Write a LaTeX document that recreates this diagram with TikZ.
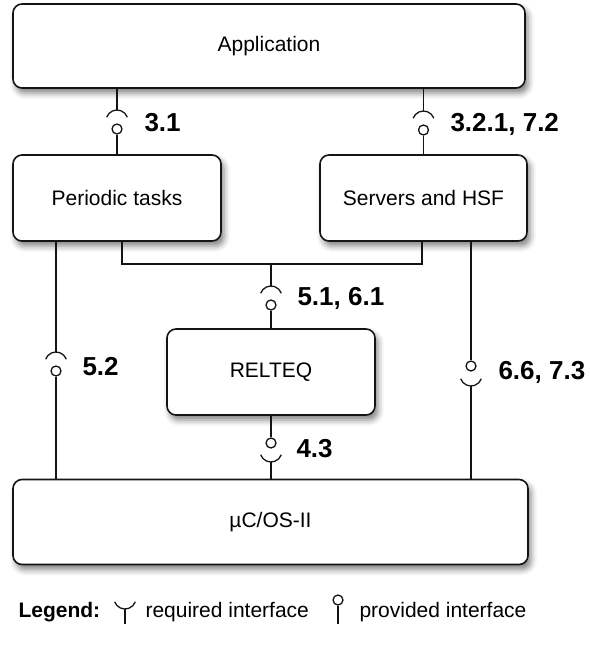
\documentclass[tikz,border=0pt]{standalone}
\usepackage{fontspec}
\setmainfont{Liberation Sans}
\usetikzlibrary{calc,shadows.blur}
\definecolor{linecol}{RGB}{20,20,20}

\begin{document}
\begin{tikzpicture}[
    x=1pt, y=1pt,
    comp/.style={draw=linecol, line width=1.6pt, fill=white, rounded corners=9pt,
                 minimum height=#1, inner sep=0pt,
                 font=\fontsize{21}{25}\selectfont,
                 blur shadow={shadow xshift=3pt, shadow yshift=-5pt,
                              shadow blur radius=6pt, shadow opacity=50}},
    comp/.default=86pt,
    wire/.style={draw=linecol, line width=1.3pt},
    ball/.style={circle, draw=linecol, line width=1.3pt, fill=white,
                 minimum size=10pt, inner sep=0pt},
    ilab/.style={anchor=west, font=\fontsize{26}{30}\selectfont\bfseries},
    leglab/.style={anchor=west, font=\fontsize{21}{25}\selectfont},
    reqdown/.pic={\draw[wire] (160:11) arc[start angle=160, end angle=20, radius=11];
                  \coordinate (-end) at (0,11);},
    requp/.pic={\draw[wire] (200:11) arc[start angle=200, end angle=340, radius=11];
                \coordinate (-end) at (0,-11);},
]
\useasboundingbox (0,0) rectangle (589,-650);

% ---- Components ----
\node[comp=84pt, minimum width=512pt] (app) at (269,-46) {Application};
\node[comp, minimum width=208pt] (per) at (117,-198) {Periodic tasks};
\node[comp, minimum width=207pt] (srv) at (423.5,-198) {Servers and HSF};
\node[comp, minimum width=208pt] (rel) at (271,-372) {RELTEQ};
\node[comp=85pt, minimum width=515pt] (os) at (270.5,-522) {µC/OS-II};

% ---- Interfaces ----
\pic (r31) at (117,-121) {reqdown};
\node[ball] (b31) at (117,-129) {};
\pic (r32) at (423.5,-122) {reqdown};
\node[ball] (b32) at (423.5,-130) {};
\pic (r51) at (271,-297) {reqdown};
\node[ball] (b51) at (271,-305) {};
\pic (r52) at (56,-363) {reqdown};
\node[ball] (b52) at (56,-371) {};
\node[ball] (b66) at (471,-366) {};
\pic (r66) at (471,-375) {requp};
\node[ball] (b43) at (271,-443) {};
\pic (r43) at (271,-451) {requp};

% ---- Connectors ----
\coordinate (jl) at (122,-264);
\coordinate (jr) at (422,-264);
\draw[wire] (app.south -| r31-end) -- (r31-end);
\draw[wire] (b31) -- (per);
\draw[wire] (app.south -| r32-end) -- (r32-end);
\draw[wire] (b32) -- (srv);
\draw[wire] (per.south -| jl) -- (jl) -- (jr) -- (srv.south -| jr);
\draw[wire] (r51-end |- jl) -- (r51-end);
\draw[wire] (b51) -- (rel);
\draw[wire] (per.south -| r52-end) -- (r52-end);
\draw[wire] (b52) -- (b52 |- os.north);
\draw[wire] (srv.south -| b66) -- (b66);
\draw[wire] (r66-end) -- (os.north -| r66-end);
\draw[wire] (rel) -- (b43);
\draw[wire] (r43-end) -- (os.north -| r43-end);

% ---- Interface labels ----
\node[ilab] (l31) at (141,-123) {3.1};
\node[ilab] (l32) at (447,-124) {3.2.1, 7.2};
\node[ilab] (l51) at (294,-298) {5.1, 6.1};
\node[ilab] (l52) at (79,-367) {5.2};
\node[ilab] (l66) at (495,-372) {6.6, 7.3};
\node[ilab] (l43) at (293,-449) {4.3};

% ---- Legend ----
\node[leglab, font=\fontsize{21}{25}\selectfont\bfseries] (leg) at (15,-612) {Legend:};
\pic (lreq) at (125,-598) {requp};
\coordinate (lreqfoot) at (125,-624);
\draw[wire] (lreq-end) -- (lreqfoot);
\node[leglab] (lreqtxt) at (142,-612) {required interface};
\node[ball] (lprov) at (338,-600) {};
\coordinate (lprovfoot) at (338,-624);
\draw[wire] (lprov) -- (lprovfoot);
\node[leglab] (lprovtxt) at (356,-612) {provided interface};

\end{tikzpicture}
\end{document}
